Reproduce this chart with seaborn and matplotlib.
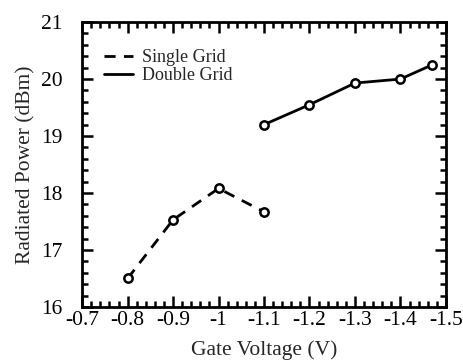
import matplotlib
matplotlib.use("Agg")
import matplotlib.pyplot as plt
import seaborn as sns
import pandas as pd
from matplotlib.ticker import MultipleLocator
from matplotlib.lines import Line2D

single_v = [-0.8, -0.9, -1.0, -1.1]
single_p = [16.5, 17.53, 18.08, 17.67]
double_v = [-1.1, -1.2, -1.3, -1.4, -1.47]
double_p = [19.2, 19.55, 19.93, 20.0, 20.25]
x_ticks = [-0.7, -0.8, -0.9, -1.0, -1.1, -1.2, -1.3, -1.4, -1.5]
x_labels = ["-0.7", "-0.8", "-0.9", "-1", "-1.1", "-1.2", "-1.3", "-1.4", "-1.5"]
y_ticks = [16, 17, 18, 19, 20, 21]

sns.set_style("ticks")
plt.rcParams["font.family"] = ["Liberation Serif", "DejaVu Serif"]

fig = plt.figure(figsize=(4.64, 3.62), dpi=100)
ax = fig.add_axes([0.177, 0.152, 0.784, 0.787])

df_s = pd.DataFrame({"v": single_v, "p": single_p})
df_d = pd.DataFrame({"v": double_v, "p": double_p})

mk = dict(marker="o", markersize=6, markerfacecolor="white",
          markeredgecolor="black", markeredgewidth=1.8)
sns.lineplot(data=df_s, x="v", y="p", ax=ax, color="black", lw=2.0,
             linestyle=(0, (4, 3)), sort=False, legend=False, **mk)
sns.lineplot(data=df_d, x="v", y="p", ax=ax, color="black", lw=2.0,
             linestyle="-", sort=False, legend=False, **mk)

ax.set_xlim(-0.7, -1.5)
ax.set_ylim(16, 21)
ax.set_xticks(x_ticks)
ax.set_xticklabels(x_labels)
ax.set_yticks(y_ticks)
ax.xaxis.set_minor_locator(MultipleLocator(0.02))
ax.yaxis.set_minor_locator(MultipleLocator(0.2))
ax.tick_params(which="both", direction="in", top=True, right=True, width=1.8,
               labelsize=15.5, colors="black")
ax.tick_params(which="major", length=8)
ax.tick_params(which="minor", length=4.5)
ax.tick_params(axis="x", which="major", pad=3)
ax.tick_params(axis="y", which="major", pad=14)
for s in ax.spines.values():
    s.set_linewidth(2.0)
    s.set_color("black")

ax.set_xlabel("Gate Voltage (V)", fontsize=15.5, labelpad=7)
ax.set_ylabel("Radiated Power (dBm)", fontsize=15.5, labelpad=4)

handles = [Line2D([], [], color="black", lw=2.0, linestyle=(0, (4, 3))),
           Line2D([], [], color="black", lw=2.0, linestyle="-")]
labels = ["Single Grid", "Double Grid"]
ax.legend(handles, labels, loc="upper left", frameon=False, fontsize=13,
          handlelength=1.6, handletextpad=0.5, labelspacing=0.05,
          bbox_to_anchor=(0.04, 0.93), borderaxespad=0)

fig.savefig("out.png", dpi=100)
